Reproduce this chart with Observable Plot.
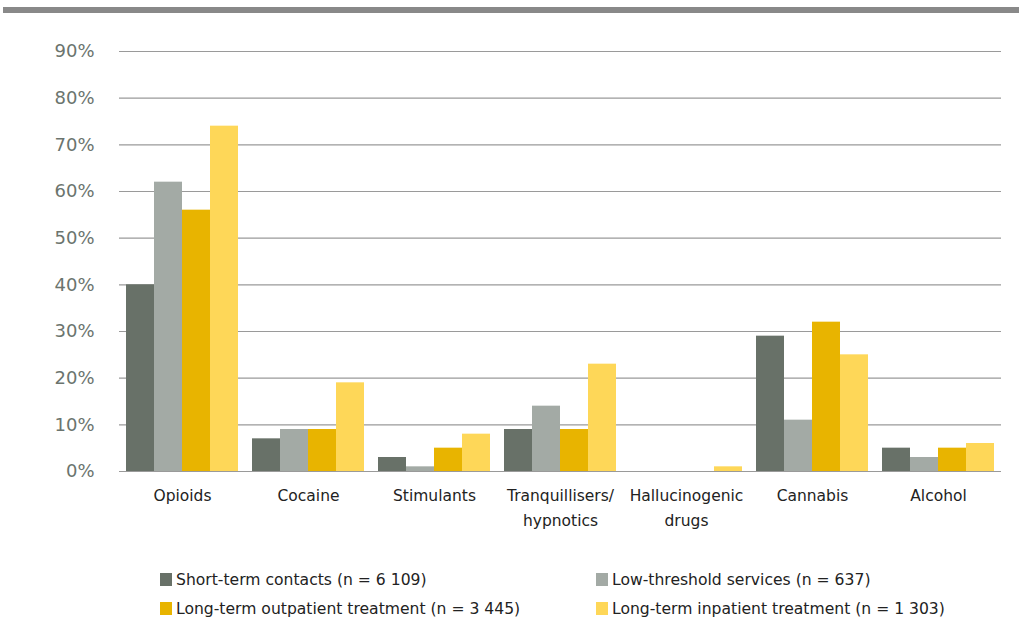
<!DOCTYPE html>
<html>
<head>
<meta charset="utf-8">
<script src="https://cdn.jsdelivr.net/npm/d3@7"></script>
<script src="https://cdn.jsdelivr.net/npm/@observablehq/plot@0.6"></script>
<style>
  html, body { margin: 0; padding: 0; background: #fff; width: 1019px; height: 618px; overflow: hidden; position: relative; font-family: "DejaVu Sans", sans-serif; }
  #topbar { position: absolute; left: 3px; top: 7px; width: 1016px; height: 6px; background: #898989; }
  #chart { position: absolute; left: 0; top: 13px; }
  .leg { position: absolute; display: flex; align-items: center; font-size: 15.6px; color: #222; white-space: nowrap; }
  .leg .sw { width: 12px; height: 13px; margin-right: 4px; }
</style>
</head>
<body>
<div id="topbar"></div>
<div id="chart"></div>
<div id="legend"></div>
<script>
const categories = ["Opioids", "Cocaine", "Stimulants", "Tranquillisers/\nhypnotics", "Hallucinogenic\ndrugs", "Cannabis", "Alcohol"];
const seriesNames = [
  "Short-term contacts (n = 6 109)",
  "Low-threshold services (n = 637)",
  "Long-term outpatient treatment (n = 3 445)",
  "Long-term inpatient treatment (n = 1 303)"
];
const seriesColors = ["#687168", "#a3aaa5", "#e8b400", "#fed758"];
const shortTerm    = [40, 7, 3, 9, 0, 29, 5];
const lowThreshold = [62, 9, 1, 14, 0, 11, 3];
const outpatient   = [56, 9, 5, 9, 0, 32, 5];
const inpatient    = [74, 19, 8, 23, 1, 25, 6];
const yTicks = [0, 10, 20, 30, 40, 50, 60, 70, 80, 90];

const seriesValues = [shortTerm, lowThreshold, outpatient, inpatient];
const data = categories.flatMap((c, i) =>
  seriesNames.map((s, j) => ({category: c, series: s, value: seriesValues[j][i]}))
);

const chart = Plot.plot({
  width: 1019,
  height: 540,
  marginLeft: 118,
  marginRight: 18,
  marginTop: 38,
  marginBottom: 82,
  style: {fontFamily: "DejaVu Sans, sans-serif", background: "transparent"},
  fx: {domain: categories, padding: 0, axis: null},
  x: {domain: seriesNames, paddingInner: 0, paddingOuter: 0.21, axis: null},
  y: {domain: [0, 90], axis: null},
  color: {domain: seriesNames, range: seriesColors},
  marks: [
    Plot.ruleY(yTicks, {stroke: "#9a9a9a", strokeWidth: 1.2}),
    Plot.barY(data, {fx: "category", x: "series", y: "value", fill: "series"}),
    Plot.axisY(yTicks, {
      anchor: "left", tickSize: 0, tickPadding: 25, fontSize: 18,
      fill: "#6b746e", tickFormat: d => d + "%", label: null
    }),
    Plot.axisFx({
      anchor: "bottom", tickSize: 0, tickPadding: 12, fontSize: 15.5,
      lineHeight: 1.6, fill: "#222", label: null
    })
  ]
});
document.getElementById("chart").appendChild(chart);

const legendPos = [
  {left: 160, top: 573}, {left: 596, top: 573},
  {left: 160, top: 602}, {left: 596, top: 602}
];
const legend = document.getElementById("legend");
seriesNames.forEach((s, i) => {
  const item = document.createElement("div");
  item.className = "leg";
  item.style.left = legendPos[i].left + "px";
  item.style.top = (legendPos[i].top - 4) + "px";
  item.style.height = "21px";
  const sw = document.createElement("span");
  sw.className = "sw";
  sw.style.background = seriesColors[i];
  const tx = document.createElement("span");
  tx.textContent = s;
  item.appendChild(sw);
  item.appendChild(tx);
  legend.appendChild(item);
});
</script>
</body>
</html>
